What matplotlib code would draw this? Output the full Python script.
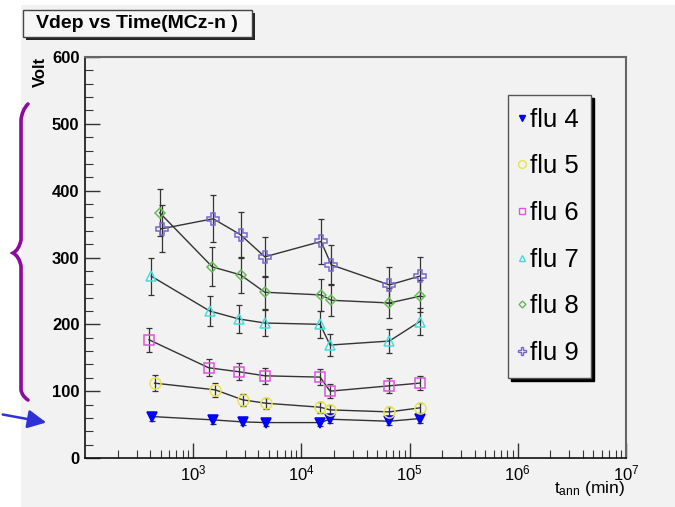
import numpy as np
import matplotlib.pyplot as plt
from matplotlib.lines import Line2D
from matplotlib.patches import Rectangle, FancyArrowPatch
from matplotlib.path import Path
from matplotlib.patches import PathPatch

plt.rcParams['font.family'] = ['Liberation Sans', 'DejaVu Sans']
plt.rcParams['mathtext.fontset'] = 'custom'
plt.rcParams['mathtext.rm'] = 'Liberation Sans'
plt.rcParams['mathtext.bf'] = 'Liberation Sans:bold'

# annealing time (min) and depletion voltage (V) per fluence
t4 = [419, 1540, 2870, 4690, 14900, 18400, 65000, 123600]
v4 = [62, 57, 54, 53, 53, 58, 55, 59]
e4 = [6, 6, 5, 5, 5, 6, 5, 6]

t5 = [440, 1600, 2870, 4690, 14900, 18400, 65000, 123600]
v5 = [112, 102, 87, 82, 76, 72, 69, 75]
e5 = [12, 10, 9, 8, 8, 7, 7, 8]

t6 = [390, 1390, 2650, 4590, 14900, 18400, 65000, 123600]
v6 = [177, 135, 129, 123, 121, 100, 108, 112]
e6 = [18, 13, 13, 12, 12, 10, 11, 11]

t7 = [410, 1420, 2650, 4590, 14900, 18400, 65000, 123600]
v7 = [272, 220, 208, 202, 200, 169, 175, 204]
e7 = [28, 22, 21, 20, 20, 17, 18, 20]

t8 = [490, 1500, 2740, 4590, 15200, 18900, 65000, 123600]
v8 = [367, 286, 274, 248, 244, 236, 232, 242]
e8 = [35, 29, 27, 25, 24, 24, 23, 24]

t9 = [510, 1530, 2740, 4590, 15200, 18900, 65000, 123600]
v9 = [343, 358, 334, 301, 324, 289, 259, 272]
e9 = [35, 35, 34, 30, 34, 30, 27, 29]

labels = ['flu 4', 'flu 5', 'flu 6', 'flu 7', 'flu 8', 'flu 9']
colors = ['#0000ff', '#e6e64a', '#dd55dd', '#44dddd', '#66bb55', '#7766cc']
markers = ['v', 'o', 's', '^', 'D', 'P']
filled = [True, False, False, False, False, False]
msizes = [7, 8, 7, 7, 5, 8]

series = [(t4, v4, e4), (t5, v5, e5), (t6, v6, e6),
          (t7, v7, e7), (t8, v8, e8), (t9, v9, e9)]

bg = '#f2f2f2'
fig = plt.figure(figsize=(6.75, 5.07), dpi=100, facecolor=bg)
# white strips of the page around the screenshot
fig.patches.append(Rectangle((0, 0), 21 / 675, 1, transform=fig.transFigure,
                             facecolor='white', edgecolor='none', zorder=0))
fig.patches.append(Rectangle((0, 1 - 5 / 507), 1, 5 / 507, transform=fig.transFigure,
                             facecolor='white', edgecolor='none', zorder=0))

ax = fig.add_axes([85 / 675, 49 / 507, 541 / 675, 401 / 507], facecolor=bg)

handles = []
for (t, v, e), lab, c, m, f, ms in zip(series, labels, colors, markers, filled, msizes):
    ax.errorbar(t, v, yerr=e, fmt='none', ecolor='#333333', elinewidth=0.9,
                capsize=2, capthick=0.9, zorder=2)
    ax.plot(t, v, '-', color='#333333', lw=1.0, zorder=3)
    ax.plot(t, v, linestyle='none', marker=m, ms=ms, mec=c,
            mfc=c if f else 'none', mew=1.1, zorder=4)
    handles.append(Line2D([], [], linestyle='none', marker=m, ms=ms * 0.7, mec=c,
                          mfc=c if f else 'none', mew=1.0, label=lab))

ax.set_xscale('log')
ax.set_xlim(1e2, 1e7)
ax.set_ylim(0, 600)
ax.set_yticks(np.arange(0, 601, 100))
ax.set_yticks(np.arange(0, 601, 20), minor=True)
ax.set_xticks([1e3, 1e4, 1e5, 1e6, 1e7])
ax.set_xticklabels([r'$\mathregular{10^{3}}$', r'$\mathregular{10^{4}}$',
                    r'$\mathregular{10^{5}}$', r'$\mathregular{10^{6}}$',
                    r'$\mathregular{10^{7}}$'])
ax.xaxis.set_minor_locator(plt.matplotlib.ticker.LogLocator(base=10, subs=np.arange(2, 10)))
ax.xaxis.set_minor_formatter(plt.NullFormatter())

ax.tick_params(which='both', direction='in', top=False, right=False, color='#333333')
ax.tick_params(which='major', length=11, width=1, labelsize=12, pad=4)
ax.tick_params(which='minor', length=6, width=0.8)
for lbl in ax.get_yticklabels():
    lbl.set_fontweight('bold')
for s in ['left', 'bottom']:
    ax.spines[s].set_color('#111111')
    ax.spines[s].set_linewidth(1.2)
for s in ['top', 'right']:
    ax.spines[s].set_color('#666666')
    ax.spines[s].set_linewidth(1.5)

fig.text(40 / 675, 1 - 57 / 507, 'Volt', rotation=90, ha='center', va='top',
         fontsize=12, fontweight='bold')
fig.text(625 / 675, 1 - 493 / 507, r'$\mathregular{t_{ann}}$ (min)', ha='right',
         va='baseline', fontsize=12.5)

leg = ax.legend(handles=handles, loc='upper left',
                bbox_to_anchor=(508 / 675, 1 - 95 / 507), bbox_transform=fig.transFigure,
                borderaxespad=0, fontsize=18.5, handlelength=0.1, handletextpad=0.25,
                labelspacing=0.88, borderpad=0.5, fancybox=False, framealpha=1,
                facecolor=bg, edgecolor='#555555',
                shadow={'color': 'black', 'alpha': 1})
leg.get_frame().set_linewidth(1.0)

# title box
fig.patches.append(Rectangle((26 / 675, 1 - 40 / 507), 229 / 675, 27 / 507,
                             transform=fig.transFigure, facecolor='#222222',
                             edgecolor='none', zorder=1))
fig.patches.append(Rectangle((23 / 675, 1 - 37 / 507), 229 / 675, 27 / 507,
                             transform=fig.transFigure, facecolor='#f6f6f6',
                             edgecolor='#444444', lw=1, zorder=2))
fig.text(137 / 675, 1 - 24 / 507, 'Vdep vs Time(MCz-n )', ha='center', va='center',
         fontsize=14, fontweight='bold', zorder=3)

# purple brace annotation on the left
H = 507.0
def fy(p):
    return 1 - p / H
bx = [28, 22, 21, 21, 19, 13, 19, 21, 21, 22, 28]
by = [104, 110, 120, 240, 250, 253, 256, 266, 390, 396, 400]
verts = [(x / 675, fy(y)) for x, y in zip(bx, by)]
codes = [Path.MOVETO, Path.CURVE3, Path.CURVE3, Path.LINETO, Path.CURVE3, Path.CURVE3,
         Path.CURVE3, Path.CURVE3, Path.LINETO, Path.CURVE3, Path.CURVE3]
fig.patches.append(PathPatch(Path(verts, codes), transform=fig.transFigure,
                             facecolor='none', edgecolor='#8e0a9e', lw=2.6,
                             capstyle='round', zorder=5))
# blue arrow annotation
fig.patches.append(FancyArrowPatch((0, fy(414)), (49 / 675, fy(423)),
                                   transform=fig.transFigure, arrowstyle='-|>',
                                   mutation_scale=28, color='#3030d8', lw=1.8,
                                   zorder=5))

fig.savefig('out.png', dpi=100, facecolor=bg)
